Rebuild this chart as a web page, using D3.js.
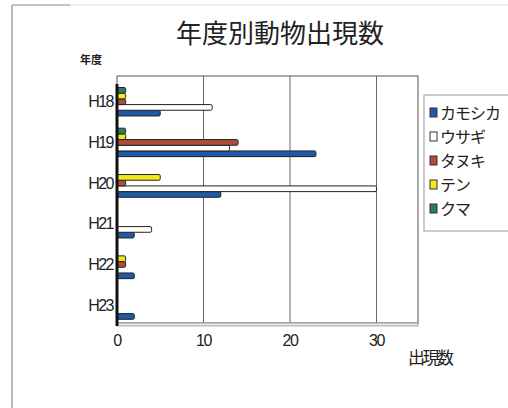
<!DOCTYPE html>
<html>
<head>
<meta charset="utf-8">
<script src="https://cdn.jsdelivr.net/npm/d3@7"></script>
<style>
  body { margin: 0; background: #fff; }
  svg text { font-family: "Liberation Sans", "Noto Sans CJK JP", sans-serif; }
</style>
</head>
<body>
<div id="chart"></div>
<script>
// data
const years = ["H18", "H19", "H20", "H21", "H22", "H23"];
const seriesNames = ["カモシカ", "ウサギ", "タヌキ", "テン", "クマ"];
const kamoshika = [5, 23, 12, 2, 2, 2];
const usagi     = [11, 13, 30, 4, 0, 0];
const tanuki    = [1, 14, 1, 0, 1, 0];
const ten       = [1, 1, 5, 0, 1, 0];
const kuma      = [1, 1, 0, 0, 0, 0];
const xTicks = [0, 10, 20, 30];
const seriesColors = ["#1f5aa6", "#ffffff", "#b24c3a", "#f3e81a", "#2a7d62"];

const allValues = [kamoshika, usagi, tanuki, ten, kuma];

const W = 508, H = 408;
const plot = {left: 117, right: 418, top: 76, bottom: 323};

const svg = d3.select("#chart").append("svg")
    .attr("width", W)
    .attr("height", H);

// chart frame (scanned page edge)
svg.append("line")
    .attr("x1", 12).attr("x2", 12).attr("y1", 5).attr("y2", H)
    .attr("stroke", "#777").attr("stroke-width", 1);
svg.append("line")
    .attr("x1", 12).attr("x2", 70).attr("y1", 5).attr("y2", 5)
    .attr("stroke", "#888").attr("stroke-width", 1);
svg.append("line")
    .attr("x1", 70).attr("x2", W).attr("y1", 5).attr("y2", 5)
    .attr("stroke", "#ddd").attr("stroke-width", 1);

// title
svg.append("text")
    .attr("x", 280).attr("y", 43)
    .attr("text-anchor", "middle")
    .style("font-size", "26px")
    .style("fill", "#222")
    .text("年度別動物出現数");

svg.append("text")
    .attr("x", 80).attr("y", 64)
    .style("font-size", "11px")
    .style("font-weight", "bold")
    .style("fill", "#222")
    .text("年度");

// scales
const x = d3.scaleLinear()
    .domain([0, 35])
    .range([plot.left, plot.left + 35 * 8.65]);

const y = d3.scaleBand()
    .domain(years)
    .range([plot.top + 5, plot.bottom + 2]);

// inside each year: クマ at top ... カモシカ at bottom
const ySub = d3.scaleBand()
    .domain(seriesNames.slice().reverse())
    .range([y.bandwidth() * 0.16, y.bandwidth() * 0.86]);

// plot wall
svg.append("rect")
    .attr("x", plot.left).attr("y", plot.top)
    .attr("width", plot.right - plot.left)
    .attr("height", plot.bottom - plot.top)
    .attr("fill", "#fff")
    .attr("stroke", "#555").attr("stroke-width", 1);

// gridlines
svg.selectAll("line.grid")
    .data(xTicks.slice(1))
    .join("line")
      .attr("class", "grid")
      .attr("x1", d => x(d)).attr("x2", d => x(d))
      .attr("y1", plot.top).attr("y2", plot.bottom)
      .attr("stroke", "#666").attr("stroke-width", 1);

// floor
svg.append("rect")
    .attr("x", plot.left).attr("y", plot.bottom)
    .attr("width", plot.right - plot.left)
    .attr("height", 3)
    .attr("fill", "#e6e6e6")
    .attr("stroke", "#999").attr("stroke-width", 0.8);

// bars
const rows = [];
years.forEach((yr, i) => {
  seriesNames.forEach((s, j) => {
    rows.push({year: yr, series: s, value: allValues[j][i], color: seriesColors[j]});
  });
});

svg.append("g")
  .selectAll("rect")
  .data(rows.filter(d => d.value > 0))
  .join("rect")
    .attr("x", x(0))
    .attr("y", d => y(d.year) + ySub(d.series))
    .attr("width", d => x(d.value) - x(0))
    .attr("height", ySub.bandwidth())
    .attr("rx", 1.5)
    .attr("fill", d => d.color)
    .attr("stroke", "#222")
    .attr("stroke-width", 1);

// y axis line (thick wall edge)
svg.append("line")
    .attr("x1", plot.left).attr("x2", plot.left)
    .attr("y1", plot.top + 8).attr("y2", plot.bottom + 3)
    .attr("stroke", "#111").attr("stroke-width", 3);

// y labels
svg.selectAll("text.ylab")
    .data(years)
    .join("text")
      .attr("class", "ylab")
      .attr("x", 113)
      .attr("y", d => y(d) + y.bandwidth() / 2 + 6)
      .attr("text-anchor", "end")
      .style("font-size", "16px")
      .style("letter-spacing", "-1.5px")
      .style("fill", "#222")
      .text(d => d);

// x labels
svg.selectAll("text.xlab")
    .data(xTicks)
    .join("text")
      .attr("class", "xlab")
      .attr("x", d => x(d))
      .attr("y", 346)
      .attr("text-anchor", "middle")
      .style("font-size", "16px")
      .style("letter-spacing", "-1.5px")
      .style("fill", "#222")
      .text(d => d);

svg.append("text")
    .attr("x", 408).attr("y", 364)
    .style("font-size", "17px")
    .style("letter-spacing", "-2.5px")
    .style("fill", "#222")
    .text("出現数");

// legend
svg.append("rect")
    .attr("x", 424).attr("y", 95)
    .attr("width", 100).attr("height", 136)
    .attr("fill", "#fff")
    .attr("stroke", "#999").attr("stroke-width", 1);

const legend = svg.selectAll("g.leg")
    .data(seriesNames)
    .join("g")
      .attr("class", "leg")
      .attr("transform", (d, i) => `translate(430, ${113 + i * 24})`);

legend.append("rect")
    .attr("x", 0).attr("y", -5)
    .attr("width", 7).attr("height", 9)
    .attr("fill", (d, i) => seriesColors[i])
    .attr("stroke", "#333").attr("stroke-width", 1);

legend.append("text")
    .attr("x", 10).attr("y", 6)
    .style("font-size", "16px")
    .style("letter-spacing", "-1px")
    .style("fill", "#222")
    .text(d => d);
</script>
</body>
</html>
